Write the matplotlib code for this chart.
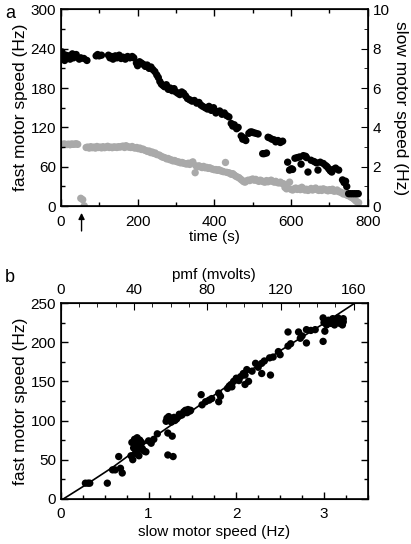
#!/usr/bin/env python3
import numpy as np
import matplotlib
matplotlib.use("Agg")
import matplotlib.pyplot as plt
from matplotlib.ticker import MultipleLocator

plt.rcParams["font.family"] = ["Liberation Sans", "DejaVu Sans"]
plt.rcParams["font.size"] = 11

# panel a: fast motor (left axis, Hz) vs time (s)
t_fast = [0, 3, 5, 8, 10, 13, 16, 20, 24, 27, 30, 33, 37, 40, 48, 52, 60, 68,
          92, 96, 100, 106, 124, 128, 132, 136, 142, 146, 152, 157, 162, 168, 174, 180, 186, 190,
          197, 200, 205, 210, 215, 220, 225, 230, 235, 240, 245, 250, 254, 258, 262,
          266, 270, 275, 280, 285, 290, 295, 300, 305, 310, 315, 320, 325, 330, 336,
          342, 348, 354, 360, 365, 370, 376, 382, 386, 392, 398, 404, 408, 414, 420,
          426, 432, 438, 444, 448, 452, 458, 462, 470, 474, 478, 482, 490, 494, 498,
          502, 508, 514, 526, 530, 536, 540, 544, 550, 556, 560, 566, 572, 578, 591,
          596, 601, 604, 610, 616, 622, 626, 632, 638, 640, 644, 652, 660, 666, 670,
          676, 684, 690, 694, 698, 702, 706, 710, 716, 724, 734, 738, 742, 745, 750,
          755, 760, 765, 770, 775]
fast = [230, 235, 225, 228, 222, 230, 226, 229, 224, 228, 232, 226, 230, 231, 224, 226, 225, 222,
        229, 231, 229, 230, 230, 226, 228, 224, 229, 226, 230, 225, 227, 224, 228, 226, 228, 226,
        218, 214, 220, 218, 216, 213, 215, 210, 212, 208, 205, 200, 196, 190, 186,
        184, 182, 185, 178, 180, 176, 179, 174, 172, 170, 174, 172, 168, 164, 162,
        160, 161, 157, 158, 154, 152, 150, 148, 152, 146, 150, 142, 144, 145, 140,
        142, 138, 136, 126, 122, 124, 118, 120, 107, 102, 104, 100, 111, 113, 113,
        112, 111, 110, 80, 80, 81, 105, 104, 102, 101, 98, 100, 97, 99, 67,
        55, 57, 56, 73, 74, 75, 64, 77, 76, 74, 52, 70, 68, 66, 55,
        67, 65, 62, 60, 57, 54, 52, 56, 58, 55, 40, 36, 38, 30, 19,
        19, 19, 19, 19, 19]

# panel a: slow motor (right axis, Hz) vs time (s)
t_slow = [0, 4, 8, 12, 16, 20, 24, 28, 32, 36, 40, 44, 52, 57, 61,
          66, 70, 74, 78, 82, 86, 90, 94, 98, 102, 106, 110, 114, 118, 122, 126, 130,
          134, 138, 142, 146, 150, 154, 158, 162, 166, 170, 174, 178, 182, 186, 190,
          194, 198, 202, 206, 210, 214, 218, 222, 226, 230, 234, 238, 242, 246, 250,
          256, 260, 264, 268, 272, 276, 280, 284, 288, 292, 296, 300, 304, 308, 312,
          316, 320, 324, 328, 332, 336, 340, 344, 350, 352, 356, 360, 364, 368, 372,
          376, 380, 384, 388, 392, 396, 400, 404, 408, 412, 416, 420, 424, 429, 432,
          436, 440, 444, 448, 452, 456, 460, 464, 468, 472, 476, 480, 484, 488, 492,
          496, 500, 504, 508, 512, 516, 520, 524, 528, 532, 536, 540, 544, 548, 552,
          556, 560, 564, 568, 572, 576, 580, 584, 588, 592, 596, 600, 604, 608, 612,
          616, 620, 624, 628, 632, 636, 640, 644, 648, 652, 656, 660, 664, 668, 672,
          676, 680, 684, 688, 692, 696, 700, 704, 708, 712, 716, 720, 724, 728, 732,
          736, 740, 744, 748, 752, 756, 760, 764, 768, 772, 776]
slow = [3.15, 3.12, 3.16, 3.14, 3.13, 3.15, 3.12, 3.16, 3.14, 3.15, 3.17, 3.14, 0.40, 0.33, 0.02,
        2.98, 3.00, 2.95, 3.02, 2.97, 3.00, 2.95, 3.03, 2.98, 3.00, 2.96, 3.02, 2.97, 3.00, 3.04, 2.98, 3.00,
        2.97, 3.01, 3.00, 2.98, 3.02, 3.00, 3.03, 3.05, 2.98, 3.07, 3.02, 3.00, 2.98, 3.03, 2.97,
        2.95, 2.98, 2.92, 2.95, 2.88, 2.90, 2.85, 2.82, 2.78, 2.80, 2.72, 2.75, 2.68, 2.70, 2.62,
        2.60, 2.55, 2.50, 2.48, 2.45, 2.40, 2.42, 2.36, 2.35, 2.30, 2.32, 2.28, 2.25, 2.24, 2.20,
        2.22, 2.18, 2.16, 2.14, 2.18, 2.12, 2.20, 2.25, 1.70, 2.05, 2.00, 2.05, 2.00, 1.96, 2.02,
        1.95, 1.97, 1.92, 1.95, 1.90, 1.88, 1.85, 1.86, 1.82, 1.85, 1.80, 1.78, 1.75, 2.22, 1.72,
        1.70, 1.68, 1.62, 1.65, 1.58, 1.52, 1.48, 1.45, 1.38, 1.32, 1.25, 1.22, 1.28, 1.32, 1.30,
        1.35, 1.38, 1.32, 1.36, 1.30, 1.26, 1.32, 1.28, 1.24, 1.22, 1.30, 1.24, 1.28, 1.32, 1.26,
        1.22, 1.26, 1.20, 1.18, 1.22, 1.16, 1.14, 0.95, 0.88, 0.92, 1.22, 0.85, 0.82, 0.88, 0.92,
        0.85, 0.90, 0.84, 0.96, 0.88, 0.82, 0.86, 0.80, 0.84, 0.90, 0.82, 0.86, 0.92, 0.84, 0.80,
        0.86, 0.80, 0.88, 0.84, 0.82, 0.78, 0.84, 0.80, 0.86, 0.76, 0.78, 0.82, 0.74, 0.72, 0.68,
        0.62, 0.66, 0.58, 0.54, 0.52, 0.46, 0.42, 0.36, 0.28, 0.22, 0.18]

# panel b: fast motor speed vs slow motor speed
slow_b = [0.28, 0.31, 0.33, 0.53, 0.59, 0.62, 0.66, 0.68, 0.70,
          0.80, 0.81, 0.82, 0.83, 0.84, 0.85, 0.86, 0.87, 0.88, 0.89, 0.90, 0.91, 0.92, 0.93,
          0.95, 0.97, 1.00, 1.03, 1.06, 1.10,
          1.20, 1.21, 1.22, 1.22, 1.23, 1.25, 1.26, 1.27, 1.28, 1.29, 1.30, 1.32, 1.35, 1.38,
          1.40, 1.42, 1.44, 1.45, 1.47, 1.48,
          1.60, 1.61, 1.65, 1.69, 1.72, 1.80, 1.80, 1.82,
          1.90, 1.92, 1.94, 1.95, 1.97, 2.00, 2.03, 2.05, 2.08, 2.10, 2.10, 2.12, 2.14, 2.18,
          2.22, 2.25, 2.29, 2.29, 2.32, 2.38, 2.39, 2.42, 2.48, 2.50, 2.59, 2.59, 2.62, 2.71,
          2.73, 2.75, 2.80, 2.80, 2.85, 2.90, 2.99, 2.99, 3.00, 3.01, 3.03, 3.05, 3.08, 3.10,
          3.12, 3.14, 3.16, 3.18, 3.20, 3.21, 3.22, 3.22]
fast_b = [20, 20, 20, 20, 37, 37, 54, 39, 33,
          55, 72, 50, 65, 76, 58, 70, 78, 62, 55, 75, 68, 72, 64,
          61, 60, 74, 71, 76, 83,
          99, 103, 84, 56, 105, 101, 98, 80, 54, 104, 100, 102, 108, 107,
          111, 113, 110, 114, 112, 113,
          133, 120, 124, 126, 128, 135, 124, 131,
          141, 144, 146, 143, 150, 154, 151, 156, 160, 146, 158, 165, 150, 163,
          173, 168, 173, 160, 176, 180, 158, 181, 188, 184, 213, 195, 198, 213,
          205, 208, 216, 199, 215, 216, 231, 201, 225, 214, 222, 228, 224, 230,
          222, 226, 231, 224, 228, 222, 230, 226]

# fitted curve in panel b
fit_x = [0.03, 0.3, 0.6, 1.0, 1.5, 2.0, 2.5, 3.0, 3.34]
fit_y = [0, 19, 41, 74, 113, 152, 189, 224, 249]

MV_PER_HZ = 160 / 3.34
GRAY = "#a9a9a9"
YLAB = 12.5


def style_ticks(ax):
    ax.tick_params(which="both", direction="in", top=True, labelsize=11, width=1)
    ax.tick_params(which="major", length=5)
    ax.tick_params(which="minor", length=3)
    ax.tick_params(axis="x", which="major", pad=6)
    for s in ax.spines.values():
        s.set_linewidth(1.2)


def main():
    fig = plt.figure(figsize=(4.11, 5.44), dpi=100)

    # --- panel a ---
    ax = fig.add_axes([0.148, 0.621, 0.747, 0.362])
    ax2 = ax.twinx()
    ax2.scatter(t_slow, slow, s=28, color=GRAY, edgecolors="none", zorder=2)
    ax.scatter(t_fast, fast, s=28, color="black", edgecolors="none", zorder=3)
    ax.set_zorder(ax2.get_zorder() + 1)
    ax.patch.set_visible(False)

    ax.set_xlim(0, 800)
    ax.set_ylim(0, 300)
    ax2.set_ylim(0, 10)
    ax.xaxis.set_major_locator(MultipleLocator(200))
    ax.xaxis.set_minor_locator(MultipleLocator(100))
    ax.yaxis.set_major_locator(MultipleLocator(60))
    ax.yaxis.set_minor_locator(MultipleLocator(30))
    ax2.yaxis.set_major_locator(MultipleLocator(2))
    ax2.yaxis.set_minor_locator(MultipleLocator(1))
    style_ticks(ax)
    ax.tick_params(which="both", right=False)
    ax2.tick_params(which="both", direction="in", labelsize=11)
    ax2.tick_params(which="major", length=5)
    ax2.tick_params(which="minor", length=3)
    ax.set_xlabel("time (s)", labelpad=1)
    ax.set_ylabel("fast motor speed (Hz)", fontsize=YLAB, labelpad=2)
    ax2.set_ylabel("slow motor speed (Hz)", fontsize=YLAB, rotation=270, labelpad=13)

    ax.annotate("", xy=(54, -0.02), xytext=(54, -0.14),
                xycoords=("data", "axes fraction"),
                arrowprops=dict(arrowstyle="-|>", color="black", lw=1,
                                mutation_scale=9))

    # --- panel b ---
    bx = fig.add_axes([0.148, 0.083, 0.747, 0.360])
    bx.plot(fit_x, fit_y, color="black", lw=1.2, zorder=2)
    bx.scatter(slow_b, fast_b, s=28, color="black", edgecolors="none", zorder=3)
    bx.set_xlim(0, 3.5)
    bx.set_ylim(0, 250)
    bx.xaxis.set_major_locator(MultipleLocator(1))
    bx.xaxis.set_minor_locator(MultipleLocator(0.25))
    bx.yaxis.set_major_locator(MultipleLocator(50))
    bx.yaxis.set_minor_locator(MultipleLocator(25))
    style_ticks(bx)
    bx.tick_params(which="both", right=True, top=False)
    bx.set_xlabel("slow motor speed (Hz)", labelpad=3)
    bx.set_ylabel("fast motor speed (Hz)", fontsize=YLAB, labelpad=2)

    # pmf scale on top (proportional to slow motor speed)
    top = bx.twiny()
    top.set_xlim(0, 3.5 * MV_PER_HZ)
    top.xaxis.set_major_locator(MultipleLocator(40))
    top.xaxis.set_minor_locator(MultipleLocator(10))
    top.tick_params(which="both", direction="in", labelsize=11)
    top.tick_params(which="major", length=5, pad=4)
    top.tick_params(which="minor", length=3)
    top.set_xlabel("pmf (mvolts)", labelpad=3)

    fig.text(0.012, 0.975, "a", fontsize=13, va="center")
    fig.text(0.012, 0.49, "b", fontsize=13, va="center")

    fig.savefig("out.png", dpi=100)
    plt.close(fig)


if __name__ == "__main__":
    main()
